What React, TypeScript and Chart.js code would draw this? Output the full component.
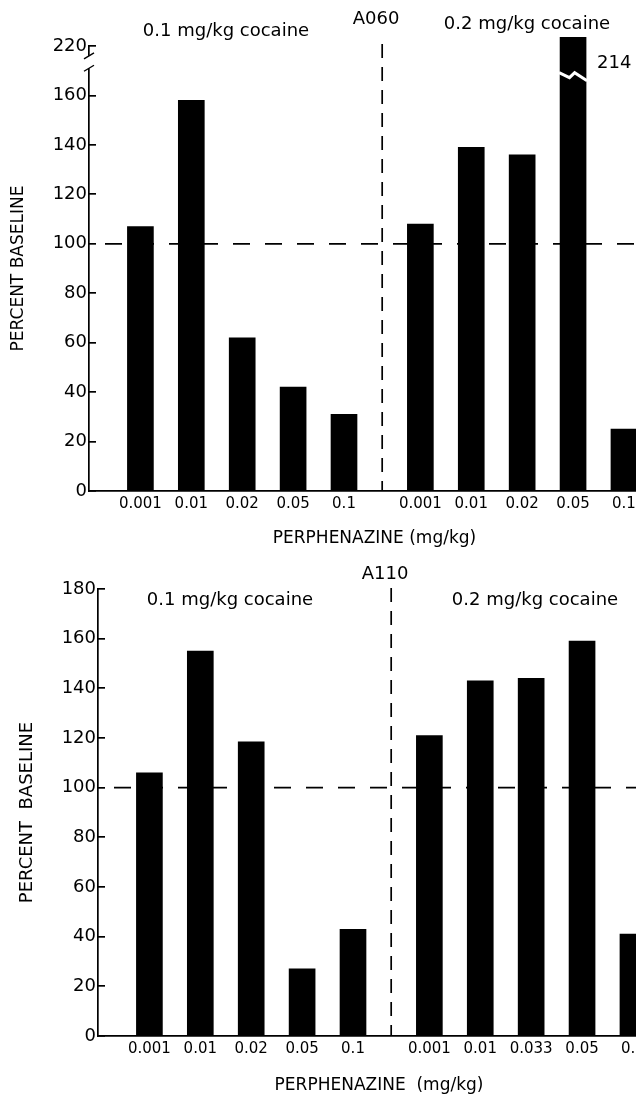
import React, { useEffect, useRef } from 'react';
import { Chart, registerables } from 'chart.js';

Chart.register(...registerables);

// ---------- data ----------
const barPositions = [0, 1, 2, 3, 4, 5.5, 6.5, 7.5, 8.5, 9.5];
const dividerPosition = 4.75;

const topTickLabels = ['0.001', '0.01', '0.02', '0.05', '0.1', '0.001', '0.01', '0.02', '0.05', '0.1'];
const topValues = [107, 158, 62, 42, 31, 108, 139, 136, 214, 25];

const bottomTickLabels = ['0.001', '0.01', '0.02', '0.05', '0.1', '0.001', '0.01', '0.033', '0.05', '0.1'];
const bottomValues = [106, 155, 118.5, 27, 43, 121, 143, 144, 159, 41];

const yTickValues = [0, 20, 40, 60, 80, 100, 120, 140, 160, 180];
const topAxisBreakLabel = '220'; // label shown at the top of the broken top axis
const brokenBarIndex = 8;
const brokenBarLabel = '214';
const baselineValue = 100;

const groupLabels = ['0.1 mg/kg cocaine', '0.2 mg/kg cocaine'];
const topAnimal = 'A060';
const bottomAnimal = 'A110';
const xTitleTop = 'PERPHENAZINE (mg/kg)';
const xTitleBottom = 'PERPHENAZINE  (mg/kg)';
const yTitleTop = 'PERCENT BASELINE';
const yTitleBottom = 'PERCENT  BASELINE';

const FONT = "'DejaVu Sans', sans-serif";

type Deco = {
  texts: { t: string; x: number; y: number; align?: CanvasTextAlign }[];
  dividerTop: number;
  breakBar?: number;
  axisBreak?: [number, number];
};

const decorPlugin = {
  id: 'decor',
  beforeDatasetsDraw(chart: any, _a: any, o: Deco) {
    const { ctx, chartArea, scales } = chart;
    const x = scales.x, y = scales.y;
    ctx.save();
    ctx.strokeStyle = '#000';
    ctx.lineWidth = 1.7;
    ctx.setLineDash([17, 15]);
    const yb = y.getPixelForValue(baselineValue);
    ctx.beginPath();
    ctx.moveTo(chartArea.left + 16, yb);
    ctx.lineTo(chartArea.right, yb);
    ctx.stroke();
    ctx.setLineDash([14, 9]);
    const xd = x.getPixelForValue(dividerPosition);
    ctx.beginPath();
    ctx.moveTo(xd, o.dividerTop);
    ctx.lineTo(xd, chartArea.bottom);
    ctx.stroke();
    ctx.restore();
  },
  afterDraw(chart: any, _a: any, o: Deco) {
    const { ctx, chartArea, scales } = chart;
    const y = scales.y;
    ctx.save();
    ctx.fillStyle = '#000';
    ctx.font = `18px ${FONT}`;
    ctx.textBaseline = 'middle';
    for (const tx of o.texts) {
      ctx.textAlign = tx.align || 'center';
      ctx.fillText(tx.t, tx.x, tx.y);
    }
    if (o.breakBar != null) {
      const bar = chart.getDatasetMeta(0).data[o.breakBar];
      const { x: bx, width } = bar.getProps(['x', 'width'], true);
      const x0 = bx - width / 2 - 1, x1 = bx + width / 2 + 1;
      const yb = y.getPixelForValue(168);
      ctx.strokeStyle = '#fff';
      ctx.lineWidth = 3;
      ctx.beginPath();
      ctx.moveTo(x0, yb - 3);
      ctx.lineTo(x0 + width * 0.4, yb + 2);
      ctx.lineTo(x0 + width * 0.6, yb - 3);
      ctx.lineTo(x1, yb + 5);
      ctx.stroke();
      ctx.fillStyle = '#000';
      ctx.textAlign = 'left';
      ctx.fillText(brokenBarLabel, x1 + 10, yb - 12);
    }
    if (o.axisBreak) {
      const ya = y.getPixelForValue(o.axisBreak[1]);
      const yc = y.getPixelForValue(o.axisBreak[0]);
      const xa = chartArea.left;
      ctx.fillStyle = '#fff';
      ctx.fillRect(xa - 3, ya, 6, yc - ya);
      ctx.strokeStyle = '#000';
      ctx.lineWidth = 1.4;
      ctx.beginPath();
      ctx.moveTo(xa - 5, ya + 3);
      ctx.lineTo(xa + 5, ya - 3);
      ctx.moveTo(xa - 5, yc + 3);
      ctx.lineTo(xa + 5, yc - 3);
      ctx.stroke();
    }
    ctx.restore();
  },
};

function makeChart(
  canvas: HTMLCanvasElement,
  values: number[],
  tickLabels: string[],
  yAxisWidth: number,
  xAxisHeight: number,
  padTop: number,
  padBottom: number,
  xTitle: string,
  yTitle: string,
  yTitleSize: number,
  yTitlePad: number,
  xTitlePad: number,
  topLabel: string | null,
  deco: Deco,
  clipTop: number
) {
  const W = canvas.width;
  const pxPerUnit = 50.9;
  const xMin = -1.01;
  const xMax = xMin + (W - yAxisWidth) / pxPerUnit;
  return new Chart(canvas, {
    type: 'bar',
    data: {
      datasets: [
        {
          data: barPositions.map((p, i) => ({ x: p, y: values[i] })),
          backgroundColor: '#000',
          borderWidth: 0,
          barThickness: 26,
          clip: { left: false, right: false, bottom: false, top: clipTop } as any,
        } as any,
      ],
    },
    options: {
      animation: false,
      responsive: false,
      layout: { padding: { top: padTop, bottom: padBottom, left: 0, right: 0 } },
      plugins: {
        legend: { display: false },
        tooltip: { enabled: false },
        decor: deco,
      } as any,
      scales: {
        x: {
          type: 'linear',
          offset: false,
          min: xMin,
          max: xMax,
          grid: { display: false, drawTicks: false },
          border: { display: true, color: '#000', width: 1.8 },
          afterBuildTicks: (s: any) => {
            s.ticks = barPositions.map((v) => ({ value: v }));
          },
          afterFit: (s: any) => {
            s.height = xAxisHeight;
          },
          ticks: {
            autoSkip: false,
            maxRotation: 0,
            minRotation: 0,
            padding: 4,
            color: '#000',
            font: { family: FONT, size: 15 },
            callback: (_v: any, i: number) => tickLabels[i],
          },
          title: {
            display: true,
            text: xTitle,
            color: '#000',
            font: { family: FONT, size: 17, lineHeight: 1 },
            padding: { top: 0, bottom: xTitlePad },
          },
        },
        y: {
          min: 0,
          max: 180,
          afterBuildTicks: (s: any) => {
            s.ticks = yTickValues.map((v) => ({ value: v }));
          },
          afterFit: (s: any) => {
            s.width = yAxisWidth;
          },
          grid: {
            display: true,
            drawOnChartArea: false,
            drawTicks: true,
            tickLength: -7,
            color: '#000',
            lineWidth: 1.7,
          },
          border: { display: true, color: '#000', width: 1.7 },
          ticks: {
            padding: 9,
            color: '#000',
            font: { family: FONT, size: 18 },
            callback: (v: any) => (v === 180 && topLabel ? topLabel : String(v)),
          },
          title: {
            display: true,
            text: yTitle,
            color: '#000',
            font: { family: FONT, size: yTitleSize, lineHeight: 1 },
            padding: { top: yTitlePad, bottom: 0 },
          },
        },
      },
    } as any,
    plugins: [decorPlugin as any],
  });
}

export default function App() {
  const topRef = useRef<HTMLCanvasElement>(null);
  const botRef = useRef<HTMLCanvasElement>(null);

  useEffect(() => {
    Chart.defaults.font.family = FONT;
    Chart.defaults.color = '#000';
    const c1 = makeChart(
      topRef.current!,
      topValues,
      topTickLabels,
      89,
      60,
      46,
      9,
      xTitleTop,
      yTitleTop,
      17,
      10.5,
      3.5,
      topAxisBreakLabel,
      {
        texts: [
          { t: groupLabels[0], x: 226, y: 31 },
          { t: topAnimal, x: 376, y: 19 },
          { t: groupLabels[1], x: 527, y: 24 },
        ],
        dividerTop: 44,
        breakBar: brokenBarIndex,
        axisBreak: [171, 176],
      },
      9
    );
    const c2 = makeChart(
      botRef.current!,
      bottomValues,
      bottomTickLabels,
      98,
      61,
      29,
      0,
      xTitleBottom,
      yTitleBottom,
      18,
      18,
      2.5,
      null,
      {
        texts: [
          { t: groupLabels[0], x: 230, y: 40 },
          { t: bottomAnimal, x: 385, y: 14 },
          { t: groupLabels[1], x: 535, y: 40 },
        ],
        dividerTop: 28,
      },
      0
    );
    return () => {
      c1.destroy();
      c2.destroy();
    };
  }, []);

  return (
    <div
      style={{
        position: 'absolute',
        left: 0,
        top: 0,
        width: 636,
        height: 1097,
        overflow: 'hidden',
        background: '#fff',
      }}
    >
      <canvas ref={topRef} width={660} height={560} style={{ position: 'absolute', left: 0, top: 0, width: 660, height: 560 }} />
      <canvas ref={botRef} width={660} height={537} style={{ position: 'absolute', left: 0, top: 560, width: 660, height: 537 }} />
    </div>
  );
}
